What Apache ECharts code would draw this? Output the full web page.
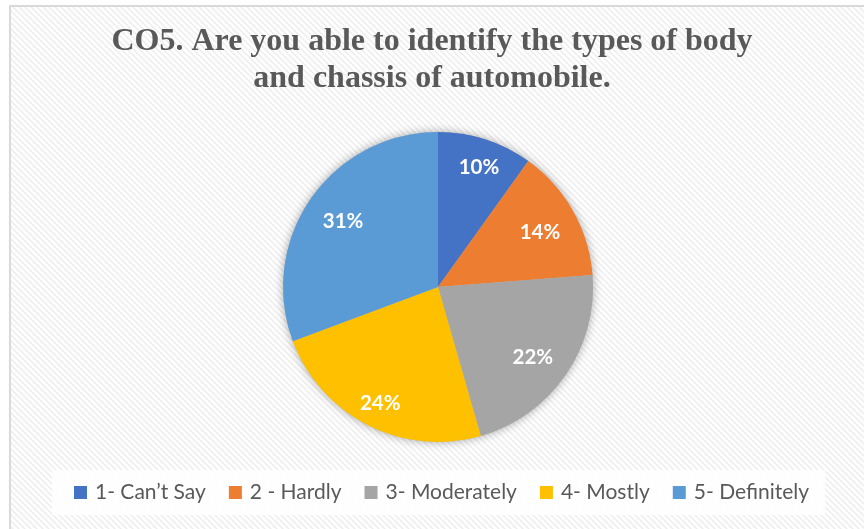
<!DOCTYPE html>
<html>
<head>
<meta charset="utf-8">
<script src="https://cdn.jsdelivr.net/npm/echarts@6/dist/echarts.min.js"></script>
<style>
html,body{margin:0;padding:0;background:#fff;}
#c{width:864px;height:529px;}
</style>
</head>
<body>
<div id="c"></div>
<script>
const titleText = 'CO5. Are you able to identify the types of body\nand chassis of automobile.';
const categories = ['1- Can\u2019t Say', '2 - Hardly', '3- Moderately', '4- Mostly', '5- Definitely'];
const values = [10, 14, 22, 24, 31];
const colors = ['#4472C4', '#ED7D31', '#A5A5A5', '#FFC000', '#5B9BD5'];
const labelNudges = [[3, -2], [-6, 6], [-7, 0], [-2, 6], [7, 5]];

// diagonal stripe pattern
const tile = document.createElement('canvas');
const s = 6;
tile.width = s; tile.height = s;
const g = tile.getContext('2d');
g.fillStyle = '#ffffff';
g.fillRect(0, 0, s, s);
g.strokeStyle = '#ededed';
g.lineWidth = 1.5;
g.beginPath();
g.moveTo(-1, -1); g.lineTo(s + 1, s + 1);
g.moveTo(-1, s - 1); g.lineTo(1, s + 1);
g.moveTo(s - 1, -1); g.lineTo(s + 1, 1);
g.stroke();

const chart = echarts.init(document.getElementById('c'), null, {renderer: 'canvas'});
const dataItems = categories.map((n, i) => ({name: n, value: values[i], itemStyle: {color: colors[i]}}));
const R = 155;
chart.setOption({
  backgroundColor: '#ffffff',
  animation: false,
  graphic: [{
    type: 'rect', z: -10, silent: true,
    shape: {x: 10, y: 6, width: 880, height: 560},
    style: {fill: {image: tile, repeat: 'repeat'}, stroke: '#d9d9d9', lineWidth: 2}
  }],
  title: {
    text: titleText,
    left: 427, top: 18, textAlign: 'center',
    textStyle: {fontFamily: 'Liberation Serif', fontWeight: 'bold', fontSize: 32, color: '#595959', lineHeight: 37}
  },
  legend: {
    data: categories,
    left: 52, top: 470,
    padding: [12, 16, 12, 22],
    backgroundColor: 'rgba(255,255,255,0.85)',
    itemWidth: 13, itemHeight: 13, itemGap: 23,
    icon: 'rect',
    textStyle: {fontFamily: 'Lato', fontSize: 21, color: '#595959', padding: [0, 0, 0, 3]}
  },
  series: [
    {
      type: 'pie', center: [438, 287], radius: R, silent: true, z: 1,
      label: {show: false}, labelLine: {show: false},
      data: [{name: '', value: 1, itemStyle: {color: '#bbbbbb', shadowBlur: 10, shadowColor: 'rgba(0,0,0,0.35)'}}],
      legendHoverLink: false
    },
    {
      type: 'pie', center: [438, 287], radius: R, startAngle: 90, clockwise: true, z: 2,
      label: {show: false}, labelLine: {show: false},
      itemStyle: {borderWidth: 0},
      data: dataItems
    },
    {
      type: 'pie', center: [438, 287], radius: 2 * 121, startAngle: 90, clockwise: true, z: 3,
      silent: true,
      itemStyle: {color: 'rgba(0,0,0,0)'},
      label: {
        show: true, position: 'inside', color: '#ffffff',
        fontFamily: 'Lato', fontWeight: 'bold', fontSize: 20.5,
        formatter: p => Math.round(p.percent) + '%'
      },
      labelLine: {show: false},
      data: categories.map((n, i) => ({
        name: n, value: values[i],
        itemStyle: {color: 'rgba(0,0,0,0)'},
        label: {offset: labelNudges[i]}
      }))
    }
  ]
});
</script>
</body>
</html>
